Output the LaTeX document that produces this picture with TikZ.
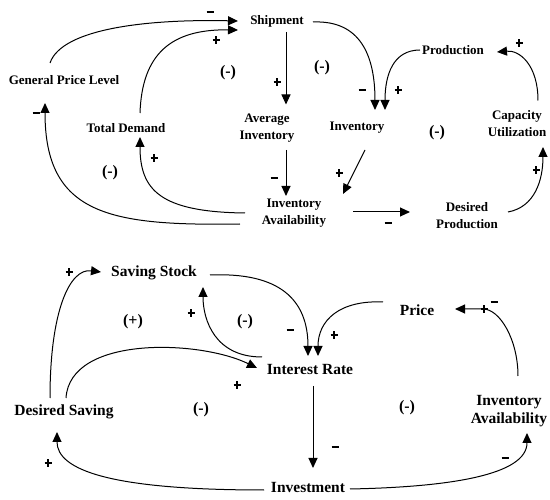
\documentclass[tikz,border=0pt]{standalone}
\usepackage{fontspec}
\setmainfont{Liberation Serif}
\usetikzlibrary{arrows.meta}
\newcommand{\mysgnminus}{\rule{7pt}{2.2pt}}
\newcommand{\mysgnplus}{\rlap{\rule[2.6pt]{7.4pt}{2.2pt}}\hspace{2.6pt}\rule{2.2pt}{7.4pt}\hspace{2.6pt}}
\begin{document}
\begin{tikzpicture}[x=1pt,y=-1pt,
  topl/.style={inner sep=1pt,align=center,font=\fontsize{13}{17}\selectfont\bfseries},
  botl/.style={inner sep=1pt,align=center,font=\fontsize{15.5}{18}\selectfont\bfseries},
  link/.style={line width=1pt,-{Triangle[length=10pt,width=9pt]}},
  pol/.style={inner sep=0pt,font=\fontsize{16}{16}\selectfont\bfseries},
  loopl/.style={inner sep=0pt,font=\fontsize{16}{16}\selectfont\bfseries}]
\useasboundingbox (0,0) rectangle (550,500);
% ---------- top diagram ----------
\node[topl] (ship) at (277,21) {Shipment};
\node[topl] (gpl) at (64,80) {General Price Level};
\node[topl] (td) at (126,128) {Total Demand};
\node[topl] (avg) at (267,128.5) {Average\\Inventory};
\node[topl] (inv) at (357,128) {Inventory};
\node[topl] (prod) at (453,50) {Production};
\node[topl] (cap) at (517,123.5) {Capacity\\Utilization};
\node[topl] (ia) at (294,213.5) {Inventory\\Availability};
\node[topl] (dp) at (467,216) {Desired\\Production};

\draw[link] ([shift={(-14,-17)}]gpl.center) .. controls +(12,-35) and +(-88,-2) .. ([shift={(-39,0)}]ship.center);
\draw[link] ([shift={(14,-15)}]td.center) .. controls +(2,-58) and +(-68,-1) .. ([shift={(-39,9)}]ship.center);
\draw[link] ([shift={(9,11)}]ship.center) -- ([shift={(19,-24)}]avg.center);
\draw[link] ([shift={(36,1)}]ship.center) .. controls +(47,-2) and +(0,-55) .. ([shift={(18,-18)}]inv.center);
\draw[link] ([shift={(-33,0)}]prod.center) .. controls +(-27,0) and +(0,-35) .. ([shift={(28,-18)}]inv.center);
\draw[link] ([shift={(21,-23)}]cap.center) .. controls +(0,-35) and +(23,-2) .. ([shift={(44,2)}]prod.center);
\draw[link] ([shift={(19,21.5)}]avg.center) -- ([shift={(-8,-17.5)}]ia.center);
\draw[link] ([shift={(8,22)}]inv.center) -- ([shift={(49,-19.5)}]ia.center);
\draw[link] ([shift={(59,-1.5)}]ia.center) -- ([shift={(-57,-4)}]dp.center);
\draw[link] ([shift={(41,-4)}]dp.center) .. controls +(27,-5) and +(0,33) .. ([shift={(26,23.5)}]cap.center);
\draw[link] ([shift={(-49,-0.5)}]ia.center) .. controls +(-85,-1) and +(0,53) .. ([shift={(14,9)}]td.center);
\draw[link] ([shift={(-54,10.5)}]ia.center) .. controls +(-130,2) and +(0,112) .. ([shift={(-19,23)}]gpl.center);

\node[pol] (p1) at (210,12) {\mysgnminus};
\node[pol] (p2) at (215,40) {\mysgnplus};
\node[pol] (p3) at (276,82) {\mysgnplus};
\node[pol] (p4) at (362,90) {\mysgnminus};
\node[pol] (p5) at (397,90) {\mysgnplus};
\node[pol] (p6) at (518,43) {\mysgnplus};
\node[pol] (p7) at (274,178) {\mysgnminus};
\node[pol] (p8) at (338,173) {\mysgnplus};
\node[pol] (p9) at (388,223) {\mysgnminus};
\node[pol] (p10) at (535,170) {\mysgnplus};
\node[pol] (p11) at (153,158) {\mysgnplus};
\node[pol] (p12) at (36,113) {\mysgnminus};

\node[loopl] (l1) at (228,73) {(-)};
\node[loopl] (l2) at (322,68) {(-)};
\node[loopl] (l3) at (437,133) {(-)};
\node[loopl] (l4) at (110,173) {(-)};

% ---------- bottom diagram ----------
\node[botl] (ss) at (154,273) {Saving Stock};
\node[botl] (price) at (417,310) {Price};
\node[botl] (ir) at (310,370) {Interest Rate};
\node[botl] (ds) at (64,412) {Desired Saving};
\node[botl] (iav) at (509,411) {Inventory\\Availability};
\node[botl] (invest) at (308,488) {Investment};
\coordinate (bend) at (483,309);

\draw[link] ([shift={(-14,-14)}]ds.center) .. controls +(0,-88) and +(-31,-4) .. ([shift={(-53,-1)}]ss.center);
\draw[link] ([shift={(2,-14)}]ds.center) .. controls +(4,-63) and +(-57,-28) .. ([shift={(-53,-2)}]ir.center);
\draw[link] ([shift={(-48,-13)}]ir.center) .. controls +(-47,0) and +(0,33) .. ([shift={(49,14)}]ss.center);
\draw[link] ([shift={(56,2)}]ss.center) .. controls +(70,-3) and +(0,-56) .. ([shift={(-2,-14)}]ir.center);
\draw[link] ([shift={(-34,-8)}]price.center) .. controls +(-43,-2) and +(0,-36) .. ([shift={(8,-14)}]ir.center);
\draw[link] ([shift={(9,-35)}]iav.center) .. controls +(0,-36) and +(17,0) .. (bend) -- ([shift={(38,-1)}]price.center);
\draw[link] ([shift={(3,16)}]ir.center) -- ([shift={(5,-20)}]invest.center);
\draw[link] ([shift={(42,1)}]invest.center) .. controls +(100,-2) and +(0,42) .. ([shift={(18,22)}]iav.center);
\draw[link] ([shift={(-44,2)}]invest.center) .. controls +(-154,0) and +(0,38) .. ([shift={(-7,20)}]ds.center);

\node[pol] (q1) at (68,272) {\mysgnplus};
\node[pol] (q2) at (236,385) {\mysgnplus};
\node[pol] (q3) at (190,313) {\mysgnplus};
\node[pol] (q4) at (290,330) {\mysgnminus};
\node[pol] (q5) at (333,335) {\mysgnplus};
\node[pol] (q6) at (483,309) {\mysgnplus};
\node[pol] (q7) at (494,302) {\mysgnminus};
\node[pol] (q8) at (335,447) {\mysgnminus};
\node[pol] (q9) at (505,458) {\mysgnminus};
\node[pol] (q10) at (47,463) {\mysgnplus};

\node[loopl] (m1) at (133,322) {(+)};
\node[loopl] (m2) at (245,322) {(-)};
\node[loopl] (m3) at (201,410) {(-)};
\node[loopl] (m4) at (407,408) {(-)};
\end{tikzpicture}
\end{document}
